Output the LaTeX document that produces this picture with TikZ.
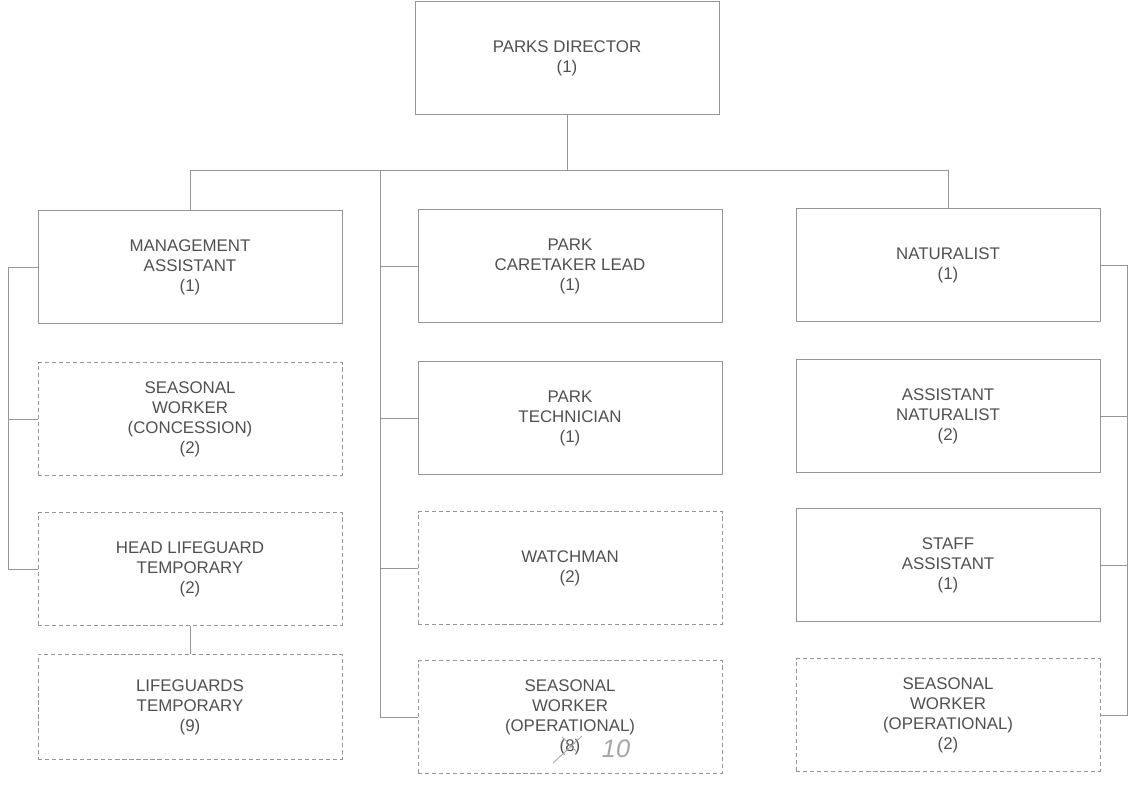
\documentclass[tikz,border=0pt]{standalone}
\usepackage{fontspec}
\setmainfont{Liberation Sans}
\usetikzlibrary{positioning, calc}
\definecolor{boxLine}{RGB}{150, 150, 150}
\definecolor{boxText}{RGB}{80, 80, 80}
\definecolor{penGrey}{RGB}{165, 165, 165}
\tikzstyle{line} = [draw=boxLine, line width=0.5pt]
\tikzstyle{permbox} = [rectangle, draw=boxLine, line width=0.5pt, text=boxText, align=center, minimum width=7.6cm, minimum height=2.82cm, inner sep=0pt, font=\fontsize{12}{14.2}\selectfont]
\tikzstyle{tempbox} = [permbox, densely dashed]
\tikzstyle{hand} = [draw=penGrey, line width=0.6pt]

\begin{document}
\begin{tikzpicture}[x=0.025cm, y=-0.025cm]
\useasboundingbox (0,0) rectangle (1131,784);

\node (director) [permbox] at (567,58) {PARKS DIRECTOR\\(1)};

% left column
\node (mgmt) [permbox] at (190,267) {MANAGEMENT\\ASSISTANT\\(1)};
\node (seasC) [tempbox] at (190,419) {SEASONAL\\WORKER\\(CONCESSION)\\(2)};
\node (headLG) [tempbox] at (190,569) {HEAD LIFEGUARD\\TEMPORARY\\(2)};
\node (lifeG) [tempbox, minimum height=2.63cm] at (190,707) {LIFEGUARDS\\TEMPORARY\\(9)};

% middle column
\node (caretaker) [permbox] at (570,266) {PARK\\CARETAKER LEAD\\(1)};
\node (tech) [permbox] at (570,418) {PARK\\TECHNICIAN\\(1)};
\node (watch) [tempbox] at (570,568) {WATCHMAN\\(2)};
\node (seasOpM) [tempbox] at (570,717) {SEASONAL\\WORKER\\(OPERATIONAL)\\(8)};

% right column
\node (nat) [permbox] at (948,265) {NATURALIST\\(1)};
\node (asstNat) [permbox] at (948,416) {ASSISTANT\\NATURALIST\\(2)};
\node (staff) [permbox] at (948,565) {STAFF\\ASSISTANT\\(1)};
\node (seasOpR) [tempbox] at (948,715) {SEASONAL\\WORKER\\(OPERATIONAL)\\(2)};

\coordinate (bus) at (567,170);
\coordinate (trunk) at (380,170);
\coordinate (leftBar) at (8,0);
\coordinate (rightBar) at (1127,0);

\draw [line] (director.south) -- (bus);
\draw [line] (mgmt.north) -- (mgmt.north |- bus) -- (nat.north |- bus) -- (nat.north);

\draw [line] (trunk) -- (trunk |- seasOpM.west) -- (seasOpM.west);
\foreach \n in {caretaker, tech, watch}
  \draw [line] (trunk |- \n.west) -- (\n.west);

\draw [line] (mgmt.west) -- (leftBar |- mgmt.west) -- (leftBar |- headLG.west) -- (headLG.west);
\draw [line] (leftBar |- seasC.west) -- (seasC.west);
\draw [line] (headLG.south) -- (lifeG.north);

\draw [line] (nat.east) -- (rightBar |- nat.east) -- (rightBar |- seasOpR.east) -- (seasOpR.east);
\foreach \n in {asstNat, staff}
  \draw [line] (\n.east) -- (rightBar |- \n.east);

% pen correction
\draw [hand] (553,763) -- (582,736);
\draw [hand] (562,737) -- (577,752);
\node (fix) [text=penGrey, font=\fontsize{18}{18}\selectfont\itshape] at (616,749) {10};

\end{tikzpicture}
\end{document}
